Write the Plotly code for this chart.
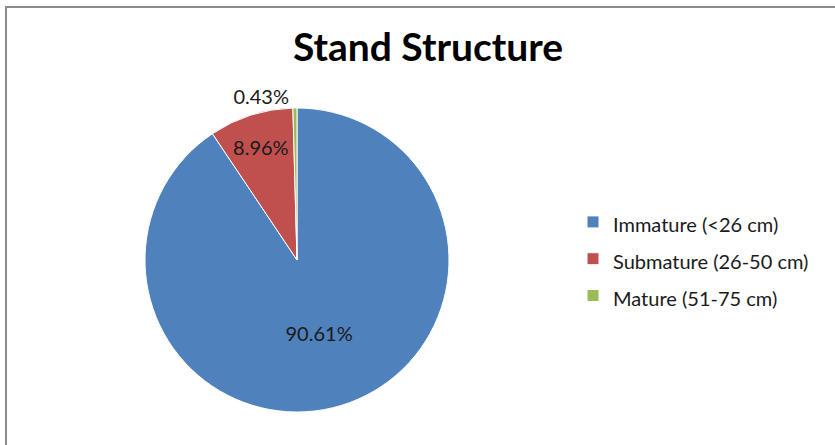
import plotly.graph_objects as go

categories = ["Immature (<26 cm)", "Submature (26-50 cm)", "Mature (51-75 cm)"]
values = [90.61, 8.96, 0.43]
colors = ["#4F81BD", "#C0504D", "#9BBB59"]
text_positions = ["inside", "inside", "outside"]

W, H = 835, 445
cx, cy, r = 297, 260, 152

legend_labels = ["<span style='font-size:20px'>%s</span>" % c for c in categories]

fig = go.Figure(go.Pie(
    labels=legend_labels,
    values=values,
    sort=False,
    direction="clockwise",
    rotation=0,
    marker=dict(colors=colors, line=dict(color="white", width=1)),
    texttemplate="%{percent:.2%}",
    textposition=text_positions,
    insidetextorientation="horizontal",
    textfont=dict(family="Lato, sans-serif", size=20, color="#1a1a1a"),
    domain=dict(x=[(cx - r) / W, (cx + r) / W], y=[(H - cy - r) / H, (H - cy + r) / H]),
    hoverinfo="label+percent",
))

fig.update_layout(
    width=W, height=H,
    margin=dict(l=0, r=0, t=0, b=0),
    paper_bgcolor="white",
    plot_bgcolor="white",
    title=dict(text="<b>Stand Structure</b>", x=428 / W, xanchor="center", y=1 - 47 / H, yanchor="middle",
               font=dict(family="Lato, sans-serif", size=39, color="#000000")),
    uniformtext=dict(minsize=20, mode="show"),
    legend=dict(x=573 / W, xanchor="left", y=1 - 259 / H, yanchor="middle",
                font=dict(family="Lato, sans-serif", size=26, color="#1a1a1a"),
                bgcolor="rgba(0,0,0,0)", valign="middle"),
    shapes=[dict(type="rect", xref="paper", yref="paper", x0=6 / W, x1=1.2, y0=-0.2, y1=1 - 7 / H,
                 line=dict(color="#8c8c8c", width=2), fillcolor="rgba(0,0,0,0)", layer="below")],
)

fig.write_html("out.html")
